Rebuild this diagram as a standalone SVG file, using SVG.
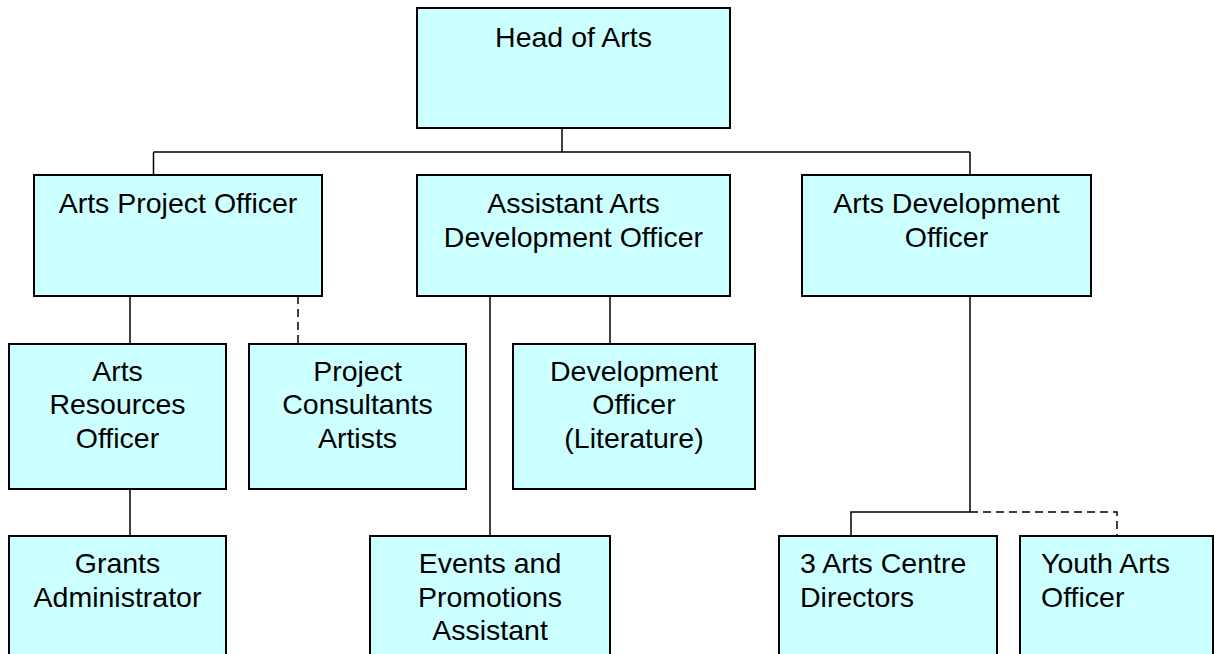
<svg xmlns="http://www.w3.org/2000/svg" width="1214" height="654" viewBox="0 0 1214 654">
<style>
.box{fill:#CCFFFF;stroke:#000;stroke-width:2}
.t{font-family:"Liberation Sans",Arial,sans-serif;font-size:28.5px;fill:#000}
.c{text-anchor:middle}
.ln{fill:none;stroke:#000;stroke-width:1.5}
.dash{stroke-dasharray:8 5}
</style>
<rect width="1214" height="654" fill="#fff"/>
<g id="connectors">
<path class="ln" d="M562,128 V152 M153.5,152 H970 M153.5,152 V175 M970,152 V175"/>
<path class="ln" d="M130,296 V344 M130,489 V536 M490,296 V536 M610,296 V344"/>
<path class="ln dash" d="M298,296 V344"/>
<path class="ln" d="M970,296 V512 H851 V536"/>
<path class="ln dash" d="M970,512 H1117 V536"/>
</g>
<g id="head"><rect class="box" x="417" y="8" width="313" height="120"/><text class="t c" x="573.5" y="47">Head of Arts</text></g>
<g id="apo"><rect class="box" x="34" y="175" width="288" height="121"/><text class="t c" x="178" y="213">Arts Project Officer</text></g>
<g id="aado"><rect class="box" x="417" y="175" width="313" height="121"/><text class="t c" x="573.5" y="213">Assistant Arts</text><text class="t c" x="573.5" y="247">Development Officer</text></g>
<g id="ado"><rect class="box" x="802" y="175" width="289" height="121"/><text class="t c" x="946.5" y="213">Arts Development</text><text class="t c" x="946.5" y="247">Officer</text></g>
<g id="aro"><rect class="box" x="9" y="344" width="217" height="145"/><text class="t c" x="117.5" y="381">Arts</text><text class="t c" x="117.5" y="414">Resources</text><text class="t c" x="117.5" y="448">Officer</text></g>
<g id="pca"><rect class="box" x="249" y="344" width="217" height="145"/><text class="t c" x="357.5" y="381">Project</text><text class="t c" x="357.5" y="414">Consultants</text><text class="t c" x="357.5" y="448">Artists</text></g>
<g id="dol"><rect class="box" x="513" y="344" width="242" height="145"/><text class="t c" x="634" y="381">Development</text><text class="t c" x="634" y="414">Officer</text><text class="t c" x="634" y="448">(Literature)</text></g>
<g id="grants"><rect class="box" x="9" y="536" width="217" height="130"/><text class="t c" x="117.5" y="573">Grants</text><text class="t c" x="117.5" y="607">Administrator</text></g>
<g id="events"><rect class="box" x="370" y="536" width="240" height="130"/><text class="t c" x="490" y="573">Events and</text><text class="t c" x="490" y="607">Promotions</text><text class="t c" x="490" y="640">Assistant</text></g>
<g id="centre"><rect class="box" x="779" y="536" width="218" height="130"/><text class="t" x="800" y="573">3 Arts Centre</text><text class="t" x="800" y="607">Directors</text></g>
<g id="youth"><rect class="box" x="1020" y="536" width="193" height="130"/><text class="t" x="1041" y="573">Youth Arts</text><text class="t" x="1041" y="607">Officer</text></g>
</svg>
